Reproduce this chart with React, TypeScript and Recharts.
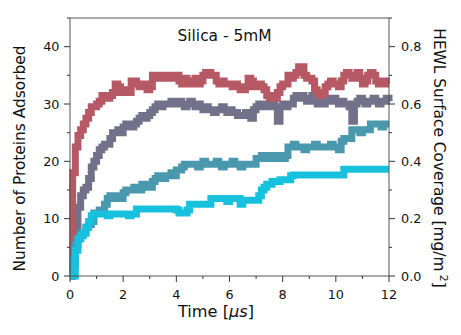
import React from "react";
import { LineChart, Line, XAxis, YAxis, ReferenceLine } from "recharts";

// sampled every 0.1 us, from 0 to 12 us
const timeStep = 0.1;
// mg/m^2 of surface covered per adsorbed protein (right axis)
const coveragePerProtein = 0.02;

const silicaRun1 = [
  0, 18, 22.5, 24.5, 25.5, 26.5, 27.5, 28.5, 29.5, 29.5,
  30, 30.5, 31.5, 31.5, 31, 31.5, 32, 33.5, 33, 32,
  32, 32.5, 32, 34, 34, 33.5, 33, 33, 33.5, 32.5,
  33, 35, 35, 34.5, 35, 35, 34.5, 35, 35, 34.5,
  35, 34, 33.5, 34.5, 33.5, 34, 33.5, 34.5, 33.5, 34,
  35, 35.5, 35.5, 35, 35, 34, 33.5, 34, 33.5, 33.5,
  33.5, 33, 33.5, 33, 32.5, 32.5, 33, 34.5, 34, 33,
  33, 33.5, 33, 32.5, 31.5, 31, 31.5, 31, 32, 33,
  33.5, 33.5, 35, 34.5, 35, 35.5, 36.5, 36.5, 35, 34.5,
  34.5, 34, 32.5, 32, 31.5, 32, 33, 33.5, 34, 33.5,
  33.5, 33, 34, 35, 35.5, 35, 34.5, 35, 35.5, 34.5,
  33.5, 34, 35, 35.5, 35, 34, 33.5, 33.5, 34, 33.5,
  33.5,
];

const silicaRun2 = [
  0, 2, 8, 12, 14, 15, 15.5, 17, 19, 20,
  21, 22, 22.5, 23, 23, 24, 25, 25, 25.5, 25,
  26, 26.5, 26.5, 26, 26.5, 27, 27.5, 28, 27.5, 28,
  28.5, 29, 29.5, 30, 29.5, 30, 30, 30, 30.5, 30,
  30, 30.5, 30, 29.5, 30, 30.5, 30, 29.5, 30, 29.5,
  29, 29.5, 29, 29, 28.5, 29, 29, 29.5, 29, 28.5,
  29, 28.5, 28.5, 28, 28, 28, 28.5, 28, 27.5, 29,
  29.5, 30, 29.5, 30, 30, 29.5, 30, 29.5, 27, 29.5,
  30, 29.5, 30, 30, 31, 31.5, 31, 31.5, 31, 30.5,
  31, 31.5, 30.5, 30, 30.5, 30, 30.5, 31, 30.5, 31,
  30.5, 30, 30.5, 30, 30, 29.5, 27, 30, 30.5, 31,
  30.5, 30, 30.5, 30.5, 31, 30.5, 30, 30.5, 30.5, 31,
  30.5,
];

const silicaRun3 = [
  0, 3, 5.5, 6.5, 7.5, 7.5, 8.5, 9, 9.5, 11,
  11, 11.5, 11, 12.5, 13.5, 14, 13.5, 14, 14, 13.5,
  14.5, 15, 15, 15, 15.5, 15, 15, 16, 15.5, 16,
  15.5, 16.5, 17, 17.5, 17.5, 17, 17.5, 17.5, 18, 17.5,
  18.5, 18.5, 19, 19.5, 19.5, 19.5, 19.5, 19.5, 19, 19.5,
  20, 19.5, 19.5, 19.5, 19.5, 20, 19.5, 19, 19.5, 19.5,
  19.5, 20, 19.5, 19.5, 19, 19.5, 19.5, 19.5, 19.5, 19.5,
  20.5, 20.5, 21, 21, 20.5, 21, 21, 20.5, 21, 21,
  20.5, 21, 22.5, 22.5, 23, 22.5, 22.5, 22.5, 22, 22.5,
  22.5, 22.5, 23, 22.5, 22.5, 22.5, 22.5, 22.5, 23, 22.5,
  22.5, 22, 23.5, 24, 24, 24, 25.5, 25.5, 25.5, 25,
  25.5, 25.5, 25.5, 26.5, 26.5, 26.5, 26.5, 26, 26.5, 26.5,
  26.5,
];

const silicaRun4 = [
  0, 0, 4.5, 6.5, 7, 7.5, 8.5, 9.5, 10.5, 10.8,
  10.8, 10.8, 10.8, 10.8, 10.5, 10.8, 10.8, 10.8, 10.8, 10.8,
  10.8, 10.8, 10.5, 10.8, 10.8, 11.7, 11.7, 11.7, 11.7, 11.7,
  11.7, 11.7, 11.7, 11.7, 11.7, 11.7, 11.7, 11.7, 11.7, 11.7,
  11.5, 11, 11, 11, 11.5, 12.5, 12.5, 12.5, 12.5, 12.5,
  12.5, 12.5, 12.5, 13.5, 13.5, 13.5, 13.5, 13.5, 13.5, 13,
  13.5, 13.5, 13.5, 13.5, 12.5, 13.2, 13.2, 13.2, 13.2, 13.2,
  13.2, 14, 15, 15.5, 16, 16, 16.5, 16.5, 16.5, 16.8,
  16.8, 16.8, 16.8, 17.5, 17.6, 17.6, 17.6, 17.6, 17.6, 17.6,
  17.6, 17.6, 17.6, 17.6, 17.6, 17.6, 17.6, 17.6, 17.6, 17.6,
  17.6, 17.6, 17.6, 18.6, 18.6, 18.6, 18.6, 18.6, 18.6, 18.6,
  18.6, 18.6, 18.6, 18.6, 18.6, 18.6, 18.6, 18.6, 18.6, 18.6,
  18.6,
];

const timeTicks = [0, 1, 2, 3, 4, 5, 6, 7, 8, 9, 10, 11, 12];
const proteinTicks = [0, 5, 10, 15, 20, 25, 30, 35, 40, 45];
const coverageTicks = [0, 0.1, 0.2, 0.3, 0.4, 0.5, 0.6, 0.7, 0.8, 0.9];

const data = silicaRun1.map((v, i) => ({
  t: i * timeStep,
  run1: v,
  run2: silicaRun2[i],
  run3: silicaRun3[i],
  run4: silicaRun4[i],
  cov1: v * coveragePerProtein,
}));

const FONT = "'DejaVu Sans', sans-serif";
const TICK_FS = 12.8;
const LABEL_FS = 15.4;

function LeftTick(props: any) {
  const { x, y, payload } = props;
  const v = payload.value;
  const major = v % 10 === 0;
  const ax = x + 10;
  return (
    <g>
      <line x1={ax - (major ? 6 : 3)} x2={ax} y1={y} y2={y} stroke="#333" strokeWidth={1} />
      {major && (
        <text x={x - 0.5} y={y} dy="0.36em" textAnchor="end" fontSize={TICK_FS} fontFamily={FONT} fill="#111">
          {v}
        </text>
      )}
    </g>
  );
}

function RightTick(props: any) {
  const { x, y, payload } = props;
  const v = payload.value;
  const major = Math.round(v * 10) % 2 === 0 && v < 0.85;
  const ax = x - 12;
  return (
    <g>
      <line x1={ax} x2={ax + (major ? 6 : 3)} y1={y} y2={y} stroke="#333" strokeWidth={1} />
      {major && (
        <text x={x} y={y} dy="0.36em" textAnchor="start" fontSize={TICK_FS} fontFamily={FONT} fill="#111">
          {v.toFixed(1)}
        </text>
      )}
    </g>
  );
}

function BottomTick(props: any) {
  const { x, y, payload } = props;
  const v = payload.value;
  const major = v % 2 === 0;
  const ay = y - 14;
  return (
    <g>
      <line x1={x} x2={x} y1={ay} y2={ay + (major ? 6 : 3)} stroke="#333" strokeWidth={1} />
      {major && (
        <text x={x} y={y} dy="0.74em" textAnchor="middle" fontSize={TICK_FS} fontFamily={FONT} fill="#111">
          {v}
        </text>
      )}
    </g>
  );
}

export default function App() {
  return (
    <div style={{ position: "absolute", left: 0, top: 0, width: 461, height: 335, background: "#fff" }}>
      <LineChart
        width={461}
        height={335}
        data={data}
        margin={{ top: 18, left: 10, right: 12, bottom: 29 }}
      >
        <XAxis
          dataKey="t"
          type="number"
          domain={[0, 12]}
          ticks={timeTicks}
          interval={0}
          height={30}
          tickSize={6}
          tickMargin={8}
          tickLine={false}
          tick={<BottomTick />}
          axisLine={{ stroke: "#555", strokeWidth: 1 }}
        />
        <YAxis
          yAxisId="left"
          type="number"
          domain={[0, 45]}
          ticks={proteinTicks}
          interval={0}
          width={60}
          tickSize={6}
          tickMargin={4}
          tickLine={false}
          tick={<LeftTick />}
          axisLine={{ stroke: "#555", strokeWidth: 1 }}
        />
        <YAxis
          yAxisId="right"
          orientation="right"
          type="number"
          domain={[0, 0.9]}
          allowDataOverflow
          ticks={coverageTicks}
          interval={0}
          width={60}
          tickSize={6}
          tickMargin={6}
          tickLine={false}
          tick={<RightTick />}
          axisLine={{ stroke: "#555", strokeWidth: 1 }}
        />
        <ReferenceLine yAxisId="left" y={45} stroke="#555" strokeWidth={1} />
        {/* coverage of run 1 on the right axis; invisible, it only anchors the axis */}
        <Line yAxisId="right" type="stepAfter" dataKey="cov1" stroke="transparent" strokeWidth={0} dot={false} activeDot={false} isAnimationActive={false} />
        <Line yAxisId="left" type="stepAfter" dataKey="run2" stroke="#737089" strokeWidth={7} dot={false} isAnimationActive={false} />
        <Line yAxisId="left" type="stepAfter" dataKey="run1" stroke="#b75965" strokeWidth={7} dot={false} isAnimationActive={false} />
        <Line yAxisId="left" type="stepAfter" dataKey="run3" stroke="#4a98ae" strokeWidth={7} dot={false} isAnimationActive={false} />
        <Line yAxisId="left" type="stepAfter" dataKey="run4" stroke="#17c1dd" strokeWidth={7} dot={false} isAnimationActive={false} />
      </LineChart>
      <svg
        width={461}
        height={335}
        style={{ position: "absolute", left: 0, top: 0, pointerEvents: "none" }}
        fontFamily={FONT}
        fill="#111"
      >
        <text x={224.5} y={40.5} textAnchor="middle" fontSize={LABEL_FS}>
          Silica - 5mM
        </text>
        <text x={216} y={317} textAnchor="middle" fontSize={LABEL_FS + 0.8}>
          Time [<tspan fontStyle="italic">μs</tspan>]
        </text>
        <text transform="translate(25,158.5) rotate(-90)" textAnchor="middle" fontSize={LABEL_FS}>
          Number of Proteins Adsorbed
        </text>
        <text transform="translate(434,158) rotate(90)" textAnchor="middle" fontSize={LABEL_FS}>
          HEWL Surface Coverage [mg/m
          <tspan dy={-6} fontSize={LABEL_FS * 0.7}> 2</tspan>
          <tspan dy={6}>]</tspan>
        </text>
      </svg>
    </div>
  );
}
